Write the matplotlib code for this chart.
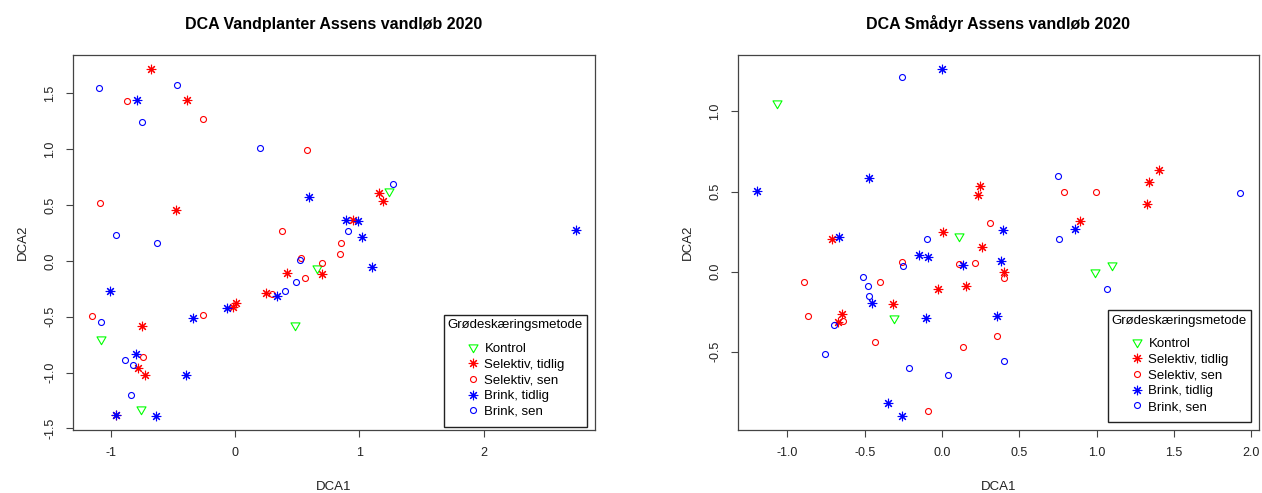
import matplotlib
matplotlib.use("Agg")
import matplotlib.pyplot as plt
from matplotlib.path import Path
import numpy as np

plt.rcParams['font.family'] = ['Liberation Sans', 'DejaVu Sans']

# ---------------- Data: DCA Vandplanter ----------------
vp_kontrol_x = [1.24, 0.66, 0.48, -1.08, -0.76]
vp_kontrol_y = [0.63, -0.06, -0.57, -0.70, -1.33]

vp_sel_tidlig_x = [-0.68, -0.39, -0.48, 1.16, 1.19, 0.95, 0.42, 0.70, 0.25, 0.01, -0.02, -0.75, -0.78, -0.73, -0.96]
vp_sel_tidlig_y = [1.72, 1.44, 0.46, 0.61, 0.54, 0.37, -0.11, -0.12, -0.29, -0.38, -0.41, -0.58, -0.96, -1.02, -1.38]

vp_sel_sen_x = [-0.87, -0.26, 0.58, -1.09, 0.38, 0.85, 0.84, 0.53, 0.70, 0.56, 0.30, -0.26, -1.15, -0.74]
vp_sel_sen_y = [1.43, 1.27, 0.99, 0.52, 0.27, 0.16, 0.06, 0.03, -0.02, -0.15, -0.30, -0.48, -0.49, -0.86]

vp_brink_tidlig_x = [-0.79, 0.59, 0.89, 0.99, 1.02, 1.10, 2.74, -1.01, 0.34, -0.07, -0.34, -0.80, -0.40, -0.96, -0.64]
vp_brink_tidlig_y = [1.44, 0.57, 0.37, 0.36, 0.21, -0.05, 0.28, -0.27, -0.31, -0.42, -0.51, -0.83, -1.02, -1.38, -1.39]

vp_brink_sen_x = [-1.10, -0.47, -0.75, 0.20, 1.27, -0.96, -0.63, 0.91, 0.52, 0.49, 0.40, -1.08, -0.89, -0.82, -0.84]
vp_brink_sen_y = [1.55, 1.58, 1.24, 1.01, 0.69, 0.23, 0.16, 0.27, 0.01, -0.19, -0.27, -0.55, -0.89, -0.93, -1.20]

# ---------------- Data: DCA Smådyr ----------------
sd_kontrol_x = [-1.07, 0.11, -0.31, 0.99, 1.10]
sd_kontrol_y = [1.05, 0.22, -0.29, 0.00, 0.04]

sd_sel_tidlig_x = [1.405, 1.338, 1.327, 0.89, 0.243, 0.231, 0.006, 0.26, -0.713, 0.398, -0.026, 0.157, -0.315, -0.646, -0.675]
sd_sel_tidlig_y = [0.634, 0.559, 0.421, 0.315, 0.534, 0.481, 0.248, 0.154, 0.204, 0.0, -0.111, -0.091, -0.199, -0.267, -0.313]

sd_sel_sen_x = [0.79, 0.995, 0.312, -0.257, 0.108, 0.212, 0.398, -0.89, -0.40, -0.868, -0.641, 0.355, -0.434, 0.135, -0.09]
sd_sel_sen_y = [0.496, 0.496, 0.303, 0.06, 0.049, 0.052, -0.04, -0.066, -0.067, -0.274, -0.31, -0.399, -0.44, -0.473, -0.868]

sd_brink_tidlig_x = [-1.195, -0.47, 0.0, -0.667, -0.152, -0.089, 0.135, 0.379, 0.396, 0.861, -0.455, -0.106, 0.356, -0.351, -0.26]
sd_brink_tidlig_y = [0.503, 0.584, 1.266, 0.218, 0.107, 0.091, 0.044, 0.064, 0.26, 0.268, -0.193, -0.289, -0.278, -0.818, -0.902]

sd_brink_sen_x = [-0.26, 0.753, 1.926, -0.094, 0.757, -0.25, -0.513, -0.481, -0.47, -0.699, -0.754, -0.211, 0.039, 0.402, 1.068]
sd_brink_sen_y = [1.214, 0.599, 0.49, 0.205, 0.204, 0.037, -0.036, -0.092, -0.153, -0.336, -0.514, -0.604, -0.643, -0.555, -0.109]

group_labels = ["Kontrol", "Selektiv, tidlig", "Selektiv, sen", "Brink, tidlig", "Brink, sen"]
legend_title = "Grødeskæringsmetode"

vp_ticks_x = [-1, 0, 1, 2]
vp_ticklabels_x = ["-1", "0", "1", "2"]
vp_ticks_y = [-1.5, -1.0, -0.5, 0.0, 0.5, 1.0, 1.5]
vp_ticklabels_y = ["-1.5", "-1.0", "-0.5", "0.0", "0.5", "1.0", "1.5"]

sd_ticks_x = [-1.0, -0.5, 0.0, 0.5, 1.0, 1.5, 2.0]
sd_ticklabels_x = ["-1.0", "-0.5", "0.0", "0.5", "1.0", "1.5", "2.0"]
sd_ticks_y = [-0.5, 0.0, 0.5, 1.0]
sd_ticklabels_y = ["-0.5", "0.0", "0.5", "1.0"]

# ---------------- Styles ----------------
tri_down = Path([(-1, 0.577), (1, 0.577), (0, -1.155), (-1, 0.577)],
                [Path.MOVETO, Path.LINETO, Path.LINETO, Path.CLOSEPOLY])
styles = [
    dict(marker=tri_down, color="#00FF00", ms=7.5),
    dict(marker=(8, 2, 0), color="#FF0000", ms=6.8),
    dict(marker="o", color="#FF0000", ms=4.3),
    dict(marker=(8, 2, 0), color="#0000FF", ms=6.8),
    dict(marker="o", color="#0000FF", ms=4.3),
]
box_color = "#444444"

W, H = 1262, 493
fig = plt.figure(figsize=(W / 100, H / 100), dpi=100)


def panel(rect, title, groups, xt, xtl, yt, ytl):
    ax = fig.add_axes(rect)
    for (gx, gy), st, lab in zip(groups, styles, group_labels):
        ax.plot(gx, gy, linestyle="none", marker=st["marker"], ms=st["ms"],
                markerfacecolor="none", markeredgecolor=st["color"],
                markeredgewidth=0.8, label=lab)
    ax.margins(x=0.04, y=0.04)
    ax.set_xticks(xt)
    ax.set_xticklabels(xtl)
    ax.set_yticks(yt)
    ax.set_yticklabels(ytl, rotation=90, va="center")
    ax.tick_params(direction="out", length=5, width=0.8, color=box_color,
                   labelsize=9, pad=7, labelcolor="#222222")
    for s in ax.spines.values():
        s.set_color(box_color)
        s.set_linewidth(0.9)
    ax.set_title(title, fontsize=11.5, fontweight="bold", pad=19)
    ax.set_xlabel("DCA1", fontsize=9.5, color="#222222")
    ax.set_ylabel("DCA2", fontsize=9.5, color="#222222")
    ax.xaxis.set_label_coords(0.5, -0.135)
    ax.yaxis.set_label_coords(-0.085, 0.5)
    return ax


ax1 = panel([73 / W, 1 - 430 / H, (595 - 73) / W, (430 - 55) / H],
            "DCA Vandplanter Assens vandløb 2020",
            [(vp_kontrol_x, vp_kontrol_y), (vp_sel_tidlig_x, vp_sel_tidlig_y),
             (vp_sel_sen_x, vp_sel_sen_y), (vp_brink_tidlig_x, vp_brink_tidlig_y),
             (vp_brink_sen_x, vp_brink_sen_y)],
            vp_ticks_x, vp_ticklabels_x, vp_ticks_y, vp_ticklabels_y)

ax2 = panel([738 / W, 1 - 430 / H, (1259 - 738) / W, (430 - 55) / H],
            "DCA Smådyr Assens vandløb 2020",
            [(sd_kontrol_x, sd_kontrol_y), (sd_sel_tidlig_x, sd_sel_tidlig_y),
             (sd_sel_sen_x, sd_sel_sen_y), (sd_brink_tidlig_x, sd_brink_tidlig_y),
             (sd_brink_sen_x, sd_brink_sen_y)],
            sd_ticks_x, sd_ticklabels_x, sd_ticks_y, sd_ticklabels_y)

for ax, anchor in [(ax1, (0.985, 0.008)), (ax2, (0.985, 0.021))]:
    leg = ax.legend(title=legend_title, loc="lower right", bbox_to_anchor=anchor,
                    fontsize=9.5, title_fontsize=9.5, frameon=True, fancybox=False,
                    edgecolor="#222222", framealpha=1, borderpad=0.2,
                    handlelength=1.0, handletextpad=0.4, labelspacing=0.27,
                    borderaxespad=0.0)
    leg.get_frame().set_linewidth(1.0)
    leg._legend_box.pad = 3.0
    leg._legend_handle_box.pad = 3.5
    leg._legend_box.sep = 4.5

fig.savefig("out.png", dpi=100)
